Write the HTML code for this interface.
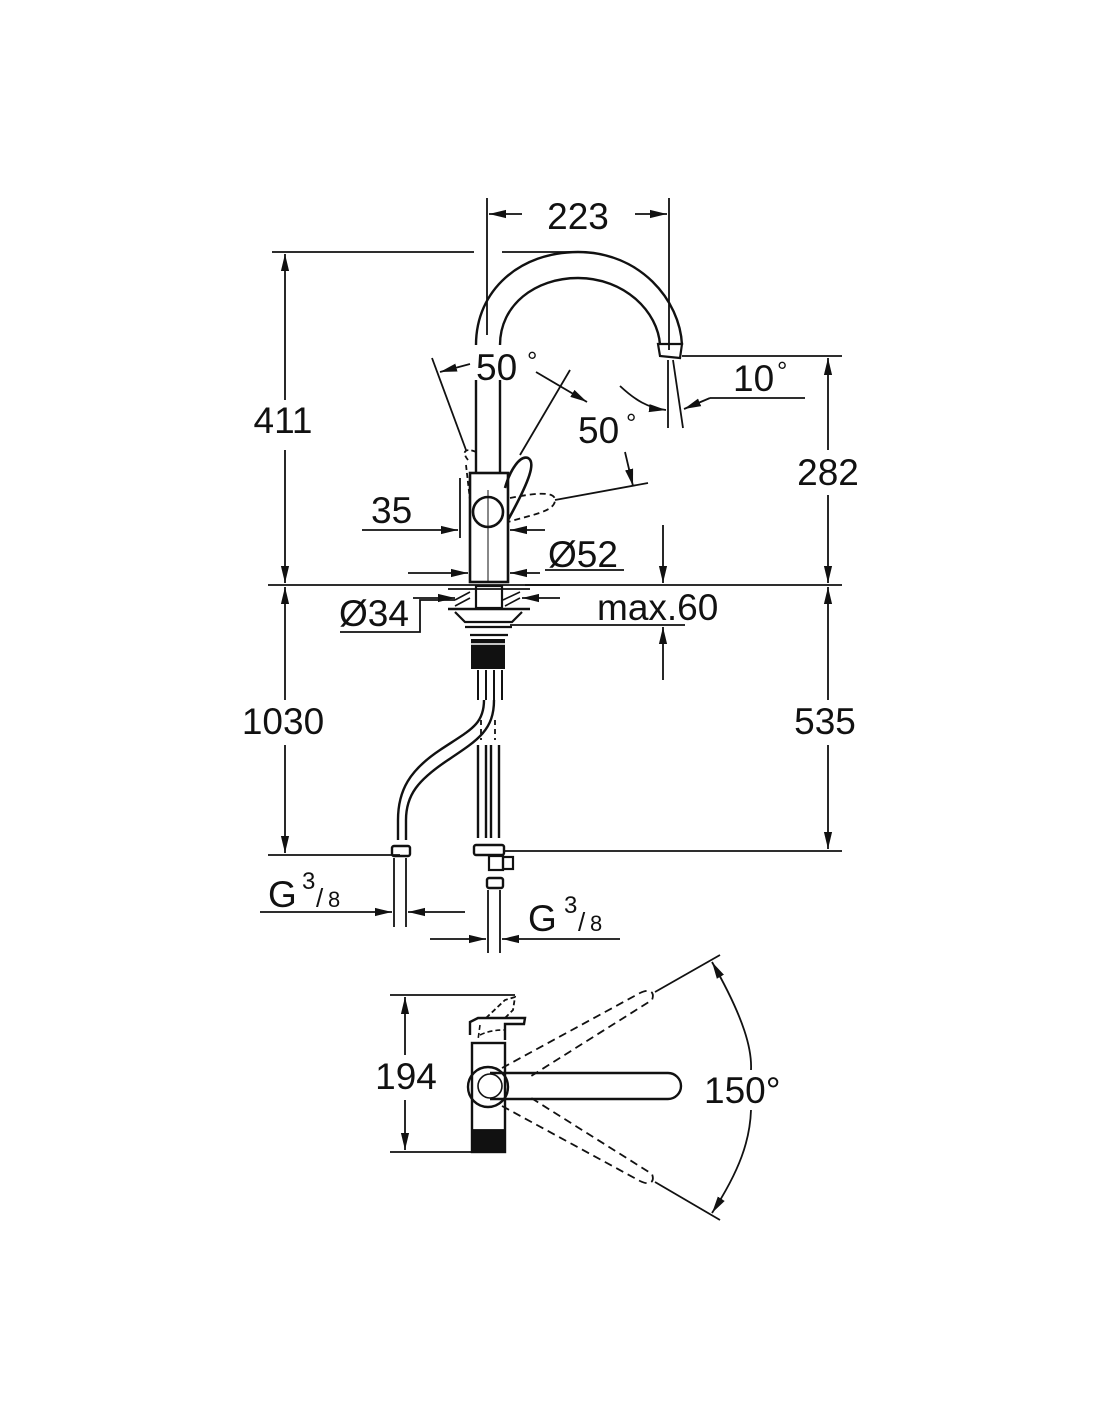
<!DOCTYPE html>
<html><head><meta charset="utf-8"><style>
html,body{margin:0;padding:0;background:#fff}
svg{display:block}
text{font-family:"Liberation Sans",sans-serif;fill:#111}
</style></head><body>
<svg width="1100" height="1422" viewBox="0 0 1100 1422" xmlns="http://www.w3.org/2000/svg">
<defs>
<marker id="a" viewBox="0 0 10 10" refX="10" refY="5" markerWidth="17" markerHeight="17" markerUnits="userSpaceOnUse" orient="auto-start-reverse"><path d="M0,2.6 L10,5 L0,7.4 z" fill="#111"/></marker>
</defs>
<g stroke="#111" stroke-width="1.8" fill="none">
<!-- 223 -->
<line x1="487" y1="198" x2="487" y2="335"/>
<line x1="669" y1="198" x2="669" y2="350"/>
<line x1="522" y1="214" x2="489" y2="214" marker-end="url(#a)"/>
<line x1="635" y1="214" x2="667" y2="214" marker-end="url(#a)"/>
<!-- top line -->
<line x1="272" y1="252" x2="474" y2="252"/>
<line x1="502" y1="252" x2="575" y2="252"/>
<!-- 411 -->
<line x1="285" y1="400" x2="285" y2="254" marker-end="url(#a)"/>
<line x1="285" y1="450" x2="285" y2="583" marker-end="url(#a)"/>
<!-- 1030 -->
<line x1="285" y1="700" x2="285" y2="587" marker-end="url(#a)"/>
<line x1="285" y1="745" x2="285" y2="853" marker-end="url(#a)"/>
<line x1="268" y1="855" x2="400" y2="855"/>
<!-- main horizontal -->
<line x1="268" y1="585" x2="842" y2="585"/>
<!-- 282 / 535 -->
<line x1="682" y1="356" x2="842" y2="356"/>
<line x1="828" y1="450" x2="828" y2="358" marker-end="url(#a)"/>
<line x1="828" y1="495" x2="828" y2="583" marker-end="url(#a)"/>
<line x1="828" y1="700" x2="828" y2="587" marker-end="url(#a)"/>
<line x1="828" y1="745" x2="828" y2="849" marker-end="url(#a)"/>
<line x1="505" y1="851" x2="842" y2="851"/>
<!-- spout -->
<path d="M476,345 C476,290 520,252 578,252 C640,252 680,300 682,345" stroke-width="2.4"/>
<path d="M500,345 C500,305 535,278 578,278 C625,278 658,312 660,345" stroke-width="2.4"/>
<path d="M658,344 L682,344 L680,358 L660,356 Z" stroke-width="2.2"/>
<line x1="476" y1="380" x2="476" y2="472" stroke-width="2.4"/>
<line x1="500" y1="380" x2="500" y2="472" stroke-width="2.4"/>
<!-- body -->
<rect x="470" y="473" width="38" height="109" stroke-width="2.6"/>
<circle cx="488" cy="512" r="15" stroke-width="2.6"/>
<line x1="488" y1="490" x2="488" y2="582" stroke-width="1"/>
<!-- lever up -->
<path d="M505,488 C510,470 520,455 528,458 C536,462 530,480 508,520" stroke-width="2.6"/>
<!-- dashed lever -->
<path d="M510,498 C530,494 555,490 555,500 C555,512 530,515 508,522" stroke-dasharray="6,4"/>
<path d="M468,460 C460,450 468,448 476,452 M466,465 L470,500" stroke-dasharray="5,3"/>
<!-- 50° left -->
<line x1="432" y1="358" x2="466" y2="450"/>
<line x1="570" y1="370" x2="520" y2="455"/>
<line x1="470" y1="364" x2="440" y2="372" marker-end="url(#a)"/>
<line x1="536" y1="372" x2="587" y2="402" marker-end="url(#a)"/>
<!-- 50° second -->
<line x1="555" y1="500" x2="648" y2="483"/>
<line x1="625" y1="452" x2="633" y2="486" marker-end="url(#a)"/>
<!-- 10° -->
<line x1="668" y1="360" x2="668" y2="428"/>
<line x1="673" y1="360" x2="683" y2="428"/>
<path d="M620,386 C635,400 648,408 666,410" marker-end="url(#a)"/>
<line x1="805" y1="398" x2="710" y2="398"/>
<line x1="710" y1="398" x2="684" y2="409" marker-end="url(#a)"/>
<!-- 35 -->
<line x1="460" y1="478" x2="460" y2="538"/>
<line x1="362" y1="530" x2="458" y2="530" marker-end="url(#a)"/>
<line x1="545" y1="530" x2="510" y2="530" marker-end="url(#a)"/>
<!-- Ø52 -->
<line x1="408" y1="573" x2="468" y2="573" marker-end="url(#a)"/>
<line x1="540" y1="573" x2="510" y2="573" marker-end="url(#a)"/>
<line x1="545" y1="570" x2="624" y2="570"/>
<!-- base -->
<rect x="476" y="586" width="26" height="22" stroke-width="2.2"/>
<line x1="448" y1="589" x2="530" y2="589"/>
<line x1="448" y1="609" x2="530" y2="609" stroke-width="2.6"/>
<path d="M455,612 L465,622 L512,622 L522,612" stroke-width="2.2"/>
<line x1="465" y1="627" x2="512" y2="627" stroke-width="2.2"/>
<line x1="470" y1="635" x2="508" y2="635" stroke-width="2.2"/>
<path d="M455,600 L470,592 M503,600 L520,592 M455,606 L470,598 M505,606 L520,598" stroke-width="1.6"/>
<!-- Ø34 -->
<line x1="413" y1="598" x2="455" y2="598" marker-end="url(#a)"/>
<line x1="560" y1="598" x2="522" y2="598" marker-end="url(#a)"/>
<polyline points="455,600 420,600 420,632 340,632"/>
<!-- max.60 -->
<line x1="663" y1="525" x2="663" y2="583" marker-end="url(#a)"/>
<line x1="663" y1="680" x2="663" y2="627" marker-end="url(#a)"/>
<line x1="510" y1="625" x2="685" y2="625"/>
<line x1="525" y1="585" x2="560" y2="585"/>
</g>
<!-- thread -->
<rect x="471" y="639" width="34" height="30" fill="#111"/>
<line x1="471" y1="644" x2="505" y2="644" stroke="#fff" stroke-width="1.5"/>
<g stroke="#111" stroke-width="1.8" fill="none">
<!-- hoses -->
<line x1="478" y1="670" x2="478" y2="700" stroke-width="2"/>
<line x1="486" y1="670" x2="486" y2="700" stroke-width="2"/>
<line x1="494" y1="670" x2="494" y2="700" stroke-width="2"/>
<line x1="502" y1="670" x2="502" y2="700" stroke-width="2"/>
<path d="M484,700 C484,725 470,730 440,750 C410,770 398,790 398,820 L398,840" stroke-width="2.4"/>
<path d="M494,700 C494,730 478,740 448,760 C418,780 406,795 406,820 L406,840" stroke-width="2.4"/>
<line x1="481" y1="720" x2="481" y2="740" stroke-dasharray="5,4"/>
<line x1="495" y1="720" x2="495" y2="740" stroke-dasharray="5,4"/>
<line x1="478" y1="745" x2="478" y2="838" stroke-width="2.4"/>
<line x1="486" y1="745" x2="486" y2="838" stroke-width="2.4"/>
<line x1="491" y1="745" x2="491" y2="838" stroke-width="2.4"/>
<line x1="499" y1="745" x2="499" y2="838" stroke-width="2.4"/>
<rect x="392" y="846" width="18" height="10" rx="2" stroke-width="2.4"/>
<rect x="474" y="845" width="30" height="10" rx="2" stroke-width="2.4"/>
<rect x="489" y="856" width="14" height="14" stroke-width="2.2"/>
<rect x="503" y="857" width="10" height="12" stroke-width="2.2"/>
<rect x="487" y="878" width="16" height="10" rx="2" stroke-width="2.4"/>
<!-- G3/8 left -->
<line x1="394" y1="858" x2="394" y2="927"/>
<line x1="406" y1="858" x2="406" y2="927"/>
<line x1="260" y1="912" x2="392" y2="912" marker-end="url(#a)"/>
<line x1="465" y1="912" x2="408" y2="912" marker-end="url(#a)"/>
<!-- G3/8 right -->
<line x1="488" y1="890" x2="488" y2="953"/>
<line x1="500" y1="890" x2="500" y2="953"/>
<line x1="430" y1="939" x2="486" y2="939" marker-end="url(#a)"/>
<line x1="620" y1="939" x2="502" y2="939" marker-end="url(#a)"/>
<!-- bottom view -->
<line x1="390" y1="995" x2="515" y2="995"/>
<line x1="390" y1="1152" x2="472" y2="1152"/>
<line x1="405" y1="1055" x2="405" y2="997" marker-end="url(#a)"/>
<line x1="405" y1="1100" x2="405" y2="1150" marker-end="url(#a)"/>
<rect x="472" y="1043" width="33" height="109" stroke-width="2.4"/>
<rect x="472" y="1130" width="33" height="22" fill="#111"/>
<path d="M470,1035 L470,1022 L478,1018 L525,1018 L524,1024 L505,1024 L505,1040" stroke-width="2.4"/>
<path d="M480,1025 L478,1040 M480,1035 C490,1030 500,1030 505,1030" stroke-width="1.6" stroke-dasharray="5,3"/>
<path d="M486,1018 L505,1000 L515,997 L513,1010 L505,1018" stroke-dasharray="5,3"/>
<path d="M490,1073 L668,1073 A13,13 0 0 1 668,1099 L490,1099" stroke-width="2.4"/>
<circle cx="488" cy="1087" r="20" stroke-width="2.4"/>
<circle cx="490" cy="1086" r="12" stroke-width="1.6"/>
<!-- dashed arms -->
<path d="M502,1068 L640,993 C650,988 655,992 652,1000 L528,1078" stroke-dasharray="8,5"/>
<path d="M502,1106 L640,1181 C650,1186 655,1182 652,1174 L528,1096" stroke-dasharray="8,5"/>
<line x1="655" y1="992" x2="720" y2="955"/>
<line x1="655" y1="1182" x2="720" y2="1220"/>
<path d="M712,962 C745,1020 752,1050 751,1070" marker-start="url(#a)"/>
<path d="M751,1110 C750,1140 740,1170 712,1213" marker-end="url(#a)"/>
</g>
<g font-size="37">
<text x="578" y="229" text-anchor="middle">223</text>
<text x="283" y="433" text-anchor="middle">411</text>
<text x="283" y="734" text-anchor="middle">1030</text>
<text x="828" y="485" text-anchor="middle">282</text>
<text x="825" y="734" text-anchor="middle">535</text>
<text x="476" y="380">50</text><text x="527" y="370" font-size="26">°</text>
<text x="578" y="443">50</text><text x="626" y="432" font-size="26">°</text>
<text x="733" y="391">10</text><text x="777" y="380" font-size="26">°</text>
<text x="371" y="523">35</text>
<text x="548" y="567">Ø52</text>
<text x="339" y="626">Ø34</text>
<text x="597" y="620">max.60</text>
<text x="268" y="907">G</text><text x="302" y="889" font-size="24">3</text><text x="316" y="907" font-size="26">/</text><text x="328" y="907" font-size="22">8</text>
<text x="528" y="931">G</text><text x="564" y="913" font-size="24">3</text><text x="578" y="931" font-size="26">/</text><text x="590" y="931" font-size="22">8</text>
<text x="406" y="1089" text-anchor="middle">194</text>
<text x="704" y="1103">150°</text>
</g>
</svg>
</body></html>
